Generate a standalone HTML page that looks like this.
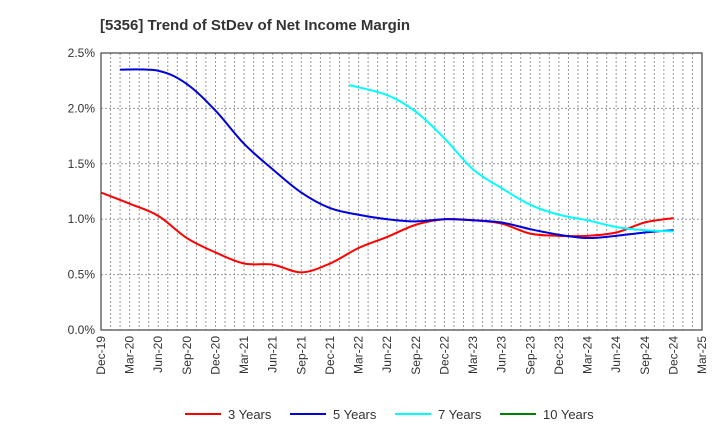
<!DOCTYPE html>
<html><head><meta charset="utf-8"><style>
body{margin:0;background:#fff;font-family:"Liberation Sans",Arial,sans-serif}
</style></head><body>
<svg id="c" width="720" height="440" xmlns="http://www.w3.org/2000/svg">
<text x="100" y="30" font-size="15" font-weight="bold" fill="#333">[5356]  Trend of StDev of Net Income Margin</text>
<g id="grid"></g><g id="series"></g><g id="axes"></g>
<g id="legend"></g>
</svg>
<script>
const categories=["Dec-19","Mar-20","Jun-20","Sep-20","Dec-20","Mar-21","Jun-21","Sep-21","Dec-21","Mar-22","Jun-22","Sep-22","Dec-22","Mar-23","Jun-23","Sep-23","Dec-23","Mar-24","Jun-24","Sep-24","Dec-24","Mar-25"];
const yTicks=[0,0.5,1.0,1.5,2.0,2.5];
const yTickLabels=["0.0%","0.5%","1.0%","1.5%","2.0%","2.5%"];
const s3=[1.24,1.14,1.03,0.83,0.70,0.60,0.59,0.52,0.60,0.74,0.84,0.95,1.00,0.99,0.96,0.87,0.85,0.85,0.88,0.97,1.01];
const s5=[null,2.35,2.34,2.22,1.98,1.68,1.45,1.24,1.10,1.04,1.00,0.98,1.00,0.99,0.97,0.91,0.86,0.83,0.85,0.88,0.90];
const s7=[null,null,null,null,null,null,null,null,null,2.21,2.12,1.97,1.73,1.45,1.28,1.13,1.04,0.99,0.93,0.90,0.89];
const s10=[];
const seriesNames=["3 Years","5 Years","7 Years","10 Years"];
const colors=["#ff0000","#0000dd","#00ffff","#008000"];
const firstPointShiftMonths=[0,-1,-1,0];
const L=101,R=702,T=53,B=330,NS="http://www.w3.org/2000/svg";
const x=i=>L+i*3*(R-L)/63, y=v=>B-v/2.5*(B-T);
function mk(t,a,p){const e=document.createElementNS(NS,t);for(const k in a)e.setAttribute(k,a[k]);(p||document.getElementById('c')).appendChild(e);return e;}
const g=document.getElementById('grid'),ax=document.getElementById('axes'),sg=document.getElementById('series'),lg=document.getElementById('legend');
for(let m=1;m<63;m++){const xx=L+m*(R-L)/63;const l=mk('line',{x1:xx,x2:xx,y1:T,y2:B,stroke:'#999','stroke-dasharray':'2,2','stroke-width':1},g);

}
yTicks.forEach((v,i)=>{if(v>0&&v<2.5){const l=mk('line',{x1:L,x2:R,y1:y(v),y2:y(v),stroke:'#999','stroke-dasharray':'2,2'},g);

}
const t=mk('text',{x:L-6,y:y(v)+4,'text-anchor':'end','font-size':12,fill:'#333'},ax);t.textContent=yTickLabels[i];

});
categories.forEach((c,i)=>{const t=mk('text',{transform:`translate(${x(i)+4},${B+6}) rotate(-90)`,'text-anchor':'end','font-size':12,fill:'#333'},ax);t.textContent=c;

});
const fr=mk('rect',{x:L,y:T,width:R-L,height:B-T,fill:'none',stroke:'#444','stroke-width':1.2},ax);


function path(pts){let d=`M${pts[0][0]},${pts[0][1]}`;for(let i=0;i<pts.length-1;i++){const p0=pts[i-1]||pts[i],p1=pts[i],p2=pts[i+1],p3=pts[i+2]||p2;
d+=` C${p1[0]+(p2[0]-p0[0])/6},${p1[1]+(p2[1]-p0[1])/6} ${p2[0]-(p3[0]-p1[0])/6},${p2[1]-(p3[1]-p1[1])/6} ${p2[0]},${p2[1]}`;}return d;}
[s3,s5,s7,s10].forEach((s,k)=>{const pts=[];s.forEach((v,i)=>{if(v!=null)pts.push([x(i),y(v)]);});
if(pts.length>1){pts[0][0]+=firstPointShiftMonths[k]*(R-L)/63;
const p=mk('path',{d:path(pts),fill:'none',stroke:colors[k],'stroke-width':2},sg);

}
const lx=[185,290,395,500][k];
const ll=mk('line',{x1:lx,x2:lx+36,y1:414,y2:414,stroke:colors[k],'stroke-width':2},lg);


const lt=mk('text',{x:lx+43,y:419,'font-size':13,fill:'#333'},lg);lt.textContent=seriesNames[k];

});
</script>
</body></html>
